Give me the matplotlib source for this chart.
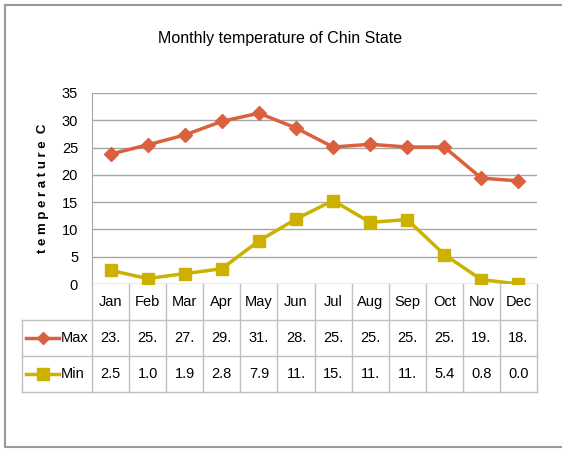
import numpy as np
import matplotlib
matplotlib.use("Agg")
from matplotlib import pyplot as plt
from matplotlib.lines import Line2D

months = ["Jan", "Feb", "Mar", "Apr", "May", "Jun", "Jul", "Aug", "Sep", "Oct", "Nov", "Dec"]
max_temp = [23.8, 25.5, 27.3, 29.8, 31.3, 28.6, 25.1, 25.6, 25.1, 25.1, 19.4, 18.9]
min_temp = [2.5, 1.0, 1.9, 2.8, 7.9, 11.9, 15.3, 11.3, 11.8, 5.4, 0.8, 0.0]
yticks = [0, 5, 10, 15, 20, 25, 30, 35]

plt.rcParams["font.family"] = ["Liberation Sans", "DejaVu Sans"]

max_col = "#D9613D"
min_col = "#CCB100"
grid_col = "#A6A6A6"

W, H = 562, 450
fig = plt.figure(figsize=(W / 100, H / 100), dpi=100)

def fx(px):
    return px / W

def fy(py):
    return 1 - py / H

# outer frame (right edge is cut off in the original)
for xs, ys in [([5, 5], [5, 447]), ([5, 562], [5, 5]), ([5, 562], [447, 447])]:
    fig.add_artist(Line2D([fx(x) for x in xs], [fy(y) for y in ys], color="#9A9A9A", lw=1.5))

left, right, top, bot = 92, 537, 93, 284
ax = fig.add_axes([fx(left), fy(bot), fx(right - left), fy(top) - fy(bot)])
x = np.arange(len(months))
ax.plot(x, max_temp, color=max_col, lw=2.5, marker="D", ms=7, zorder=3)
ax.plot(x, min_temp, color=min_col, lw=2.5, marker="s", ms=9, zorder=3)
ax.set_xlim(-0.5, 11.5)
ax.set_ylim(0, 35)
ax.set_yticks(yticks)
ax.set_xticks([])
ax.tick_params(axis="y", length=0, labelsize=10.5, pad=10)
for y in yticks:
    ax.axhline(y, color=grid_col, lw=1, zorder=1)
for s in ["top", "right", "bottom"]:
    ax.spines[s].set_visible(False)
ax.spines["left"].set_color(grid_col)
ax.set_ylabel("t e m p e r a t u r e  C", fontsize=9.5, fontweight="bold", labelpad=9)
ax.patch.set_alpha(0)

fig.text(fx(280), fy(38), "Monthly temperature of Chin State", ha="center", va="center",
         fontsize=11.5, fontweight="medium")

# data table under the plot
tb = fig.add_axes([fx(left), fy(392), fx(right - left), fy(284) - fy(392)])
tb.set_xlim(-0.5, 11.5)
tb.set_ylim(3, 0)
tb.axis("off")
lab_x0 = -0.5 - (left - 22) / ((right - left) / 12)
kw = dict(color="#BFBFBF", lw=1, clip_on=False)
for i in range(13):
    tb.plot([i - 0.5, i - 0.5], [0, 3], **kw)
for r in [1, 2, 3]:
    tb.plot([lab_x0, 11.5], [r, r], **kw)
tb.plot([lab_x0, lab_x0], [1, 3], **kw)
for i, m in enumerate(months):
    tb.text(i, 0.5, m, ha="center", va="center", fontsize=10.5)
    tb.text(i, 1.5, f"{max_temp[i]:.1f}"[:3], ha="center", va="center", fontsize=10.5)
    tb.text(i, 2.5, f"{min_temp[i]:.1f}"[:3], ha="center", va="center", fontsize=10.5)
for r, lab, col, mk, ms in [(1.5, "Max", max_col, "D", 6), (2.5, "Min", min_col, "s", 8)]:
    tb.plot([lab_x0 + 0.12, lab_x0 + 1.0], [r, r], color=col, lw=2.5, clip_on=False)
    tb.plot([lab_x0 + 0.56], [r], color=col, marker=mk, ms=ms, clip_on=False)
    tb.text(lab_x0 + 1.05, r, lab, ha="left", va="center", fontsize=10.5)

fig.savefig("out.png", dpi=100)
